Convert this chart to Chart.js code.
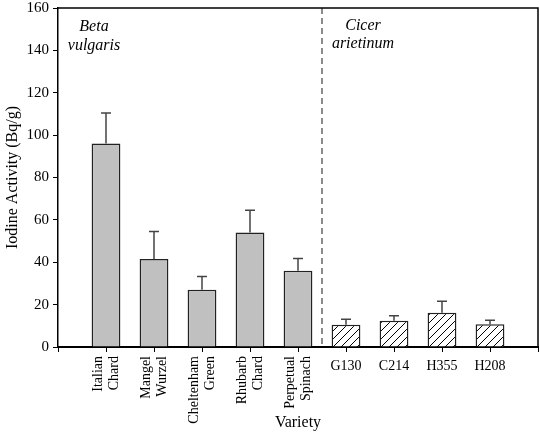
<!DOCTYPE html>
<html>
  <head>
    <title>Iodine Activity by Variety</title>
    <script src="https://cdn.jsdelivr.net/npm/chart.js"></script>
    <style>
      body { margin: 0; background: #fff; }
    </style>
  </head>
  <body>
    <canvas id="iodine-chart" width="540" height="432"></canvas>

    <script>
      // values
      const betaVarieties = [
        ["Italian", "Chard"],
        ["Mangel", "Wurzel"],
        ["Cheltenham", "Green"],
        ["Rhubarb", "Chard"],
        ["Perpetual", "Spinach"],
      ];
      const cicerVarieties = ["G130", "C214", "H355", "H208"];
      const betaActivity = [96, 41.5, 27, 54, 36];
      const betaError = [14.5, 13, 6.3, 10.5, 5.8];
      const cicerActivity = [10.5, 12.4, 16.2, 10.7];
      const cicerError = [2.6, 2.4, 5.4, 1.9];
      const yMin = 0;
      const yMax = 160;
      const yStep = 20;

      const serif = "'Liberation Serif', 'Times New Roman', serif";

      // empty slots at both ends so the bars sit one slot in from each edge
      const labels = ["", ...betaVarieties, ...cicerVarieties, ""];
      const values = [null, ...betaActivity, ...cicerActivity, null];
      const errors = [null, ...betaError, ...cicerError, null];
      const firstCicer = 1 + betaVarieties.length;

      function hatch() {
        const c = document.createElement("canvas");
        c.width = 8;
        c.height = 8;
        const g = c.getContext("2d");
        g.fillStyle = "#fff";
        g.fillRect(0, 0, 8, 8);
        g.strokeStyle = "#000";
        g.lineWidth = 1;
        g.beginPath();
        g.moveTo(0, 8);
        g.lineTo(8, 0);
        g.moveTo(-1, 1);
        g.lineTo(1, -1);
        g.moveTo(7, 9);
        g.lineTo(9, 7);
        g.stroke();
        return g.createPattern(c, "repeat");
      }
      const hatchFill = hatch();
      const fills = labels.map((l, i) => (i >= firstCicer ? hatchFill : "#c0c0c0"));

      const extras = {
        id: "extras",
        afterDatasetsDraw(chart) {
          const ctx = chart.ctx;
          const y = chart.scales.y;
          const x = chart.scales.x;
          const area = chart.chartArea;
          const meta = chart.getDatasetMeta(0);

          // upper error bars
          ctx.save();
          ctx.strokeStyle = "#444";
          ctx.lineWidth = 1.5;
          ctx.beginPath();
          meta.data.forEach((bar, i) => {
            if (errors[i] == null) return;
            const top = y.getPixelForValue(values[i] + errors[i]);
            ctx.moveTo(bar.x, bar.y);
            ctx.lineTo(bar.x, top);
            ctx.moveTo(bar.x - 5, top);
            ctx.lineTo(bar.x + 5, top);
          });
          ctx.stroke();

          // divider between the two species
          const xd = (x.getPixelForValue(firstCicer - 1) + x.getPixelForValue(firstCicer)) / 2;
          ctx.strokeStyle = "#666";
          ctx.setLineDash([6, 4]);
          ctx.beginPath();
          ctx.moveTo(xd, area.top);
          ctx.lineTo(xd, area.bottom);
          ctx.stroke();
          ctx.setLineDash([]);

          // frame top and right
          ctx.strokeStyle = "#000";
          ctx.lineWidth = 1.5;
          ctx.beginPath();
          ctx.moveTo(area.left, area.top);
          ctx.lineTo(area.right, area.top);
          ctx.lineTo(area.right, area.bottom);
          ctx.stroke();

          // species names
          ctx.fillStyle = "#000";
          ctx.font = "italic 16px " + serif;
          ctx.textAlign = "center";
          ctx.textBaseline = "middle";
          ctx.fillText("Beta", area.left + 36, 27);
          ctx.fillText("vulgaris", area.left + 36, 46);
          ctx.fillText("Cicer", xd + 41, 26);
          ctx.fillText("arietinum", xd + 41, 44);

          // horizontal labels for the chickpea varieties
          ctx.font = "14px " + serif;
          ctx.textBaseline = "top";
          cicerVarieties.forEach((name, k) => {
            ctx.fillText(name, x.getPixelForValue(firstCicer + k), area.bottom + 12);
          });
          ctx.restore();
        },
      };

      new Chart(document.getElementById("iodine-chart"), {
        type: "bar",
        data: {
          labels: labels,
          datasets: [
            {
              data: values,
              backgroundColor: fills,
              borderColor: "#222",
              borderWidth: 1.5,
              barPercentage: 0.6,
              categoryPercentage: 1,
            },
          ],
        },
        options: {
          responsive: false,
          animation: false,
          layout: { padding: { top: 8, right: 2, left: 0, bottom: 0 } },
          plugins: { legend: { display: false }, tooltip: { enabled: false } },
          scales: {
            x: {
              offset: false,
              grid: {
                offset: false,
                drawOnChartArea: false,
                color: "#000",
                tickLength: 5,
              },
              border: { color: "#000", width: 2 },
              ticks: {
                autoSkip: false,
                minRotation: 90,
                maxRotation: 90,
                padding: 4,
                labelOffset: -8,
                color: "#000",
                font: { family: serif, size: 14 },
                callback: (v, i) => (i > 0 && i < firstCicer ? labels[i] : ""),
              },
              title: {
                display: true,
                text: "Variety",
                color: "#000",
                font: { family: serif, size: 16 },
                padding: { top: 0, bottom: 0 },
              },
              afterFit: (scale) => {
                scale.height = 85;
                scale.paddingLeft = 0;
                scale.paddingRight = 0;
              },
            },
            y: {
              min: yMin,
              max: yMax,
              ticks: {
                stepSize: yStep,
                color: "#000",
                padding: 4,
                font: { family: serif, size: 15 },
              },
              grid: {
                drawOnChartArea: false,
                color: "#000",
                tickLength: 5,
              },
              border: { color: "#000", width: 1.5 },
              title: {
                display: true,
                text: "Iodine Activity (Bq/g)",
                color: "#000",
                font: { family: serif, size: 16 },
                padding: { top: 3, bottom: 2 },
              },
              afterFit: (scale) => {
                scale.width = 58;
                scale.paddingTop = 0;
                scale.paddingBottom = 0;
              },
            },
          },
        },
        plugins: [extras],
      });
    </script>
  </body>
</html>
